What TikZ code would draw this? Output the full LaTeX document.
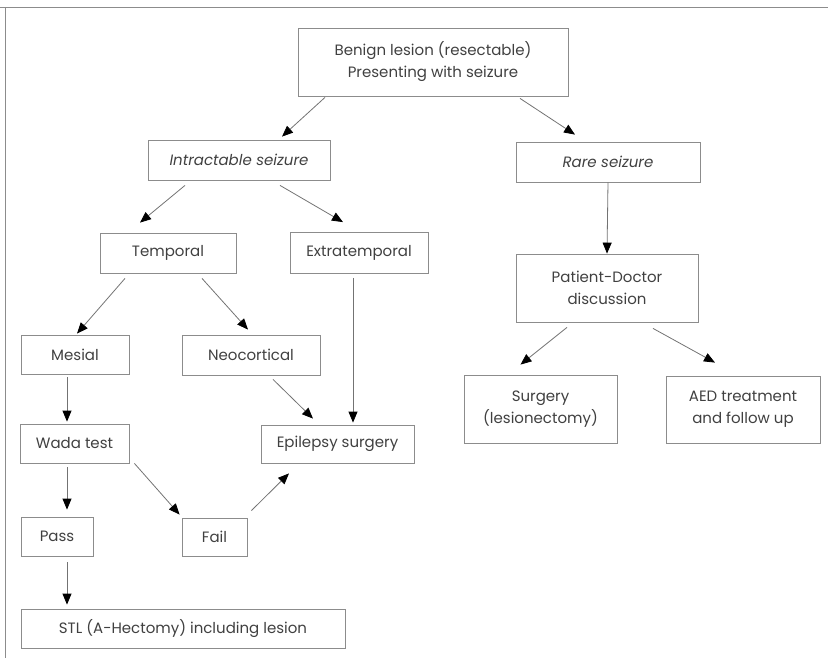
\documentclass[tikz,border=0pt]{standalone}
\usepackage{fontspec}
\setmainfont{Poppins}
\usetikzlibrary{arrows.meta}

\tikzset{
  box/.style={draw=black!45, line width=0.8pt, text=black!75, align=center,
    inner sep=0pt, font=\fontsize{15}{22}\selectfont},
  arr/.style={draw=black!55, line width=0.8pt,
    -{Triangle[length=11pt,width=9pt,color=black]}},
}

\begin{document}
\begin{tikzpicture}[x=1pt,y=-1pt]
      \useasboundingbox (0,0) rectangle (828,658);
      \draw [black!45, line width=1pt] (0,8) -- (828,8);
      \draw [black!45, line width=1pt] (5,8) -- (5,658);

      \node (benign)  [box, minimum width=270pt, minimum height=68pt] at (433,62)
            {Benign lesion (resectable)\\Presenting with seizure};
      \node (intr)    [box, minimum width=182pt, minimum height=40pt] at (239,160)
            {\itshape Intractable seizure};
      \node (rare)    [box, minimum width=184pt, minimum height=40pt] at (608,162)
            {\itshape Rare seizure};
      \node (temp)    [box, minimum width=136pt, minimum height=40pt] at (168,253) {Temporal};
      \node (extra)   [box, minimum width=138pt, minimum height=41pt] at (359,253) {Extratemporal};
      \node (patient) [box, minimum width=182pt, minimum height=68pt] at (607,288)
            {Patient-Doctor\\discussion};
      \node (mesial)  [box, minimum width=108pt, minimum height=39pt] at (75,354.5) {Mesial};
      \node (neo)     [box, minimum width=138pt, minimum height=40pt] at (251,355) {Neocortical};
      \node (surg)    [box, minimum width=153pt, minimum height=68pt] at (540.5,409)
            {Surgery\\(lesionectomy)};
      \node (aed)     [box, minimum width=154pt, minimum height=67pt] at (743,409.5)
            {AED treatment\\and follow up};
      \node (wada)    [box, minimum width=109pt, minimum height=39pt] at (74.5,443.5) {Wada test};
      \node (epi)     [box, minimum width=153pt, minimum height=38pt] at (337.5,444) {Epilepsy surgery};
      \node (pass)    [box, minimum width=72pt, minimum height=39pt] at (57,536.5) {Pass};
      \node (fail)    [box, minimum width=65pt, minimum height=38pt] at (214.5,537) {Fail};
      \node (stl)     [box, minimum width=324pt, minimum height=39pt] at (183,628.5)
            {STL (A-Hectomy) including lesion};

      \draw [arr] ([xshift=-108pt,yshift=-1pt]benign.south) -- ([xshift=43pt,yshift=3pt]intr.north);
      \draw [arr] ([xshift=87pt,yshift=-2pt]benign.south)   -- ([xshift=-33pt,yshift=7pt]rare.north);
      \draw [arr] ([xshift=-54pt,yshift=-5pt]intr.south)    -- ([xshift=-28pt,yshift=10pt]temp.north);
      \draw [arr] ([xshift=41pt,yshift=-5pt]intr.south)     -- ([xshift=-16pt,yshift=10pt]extra.north);
      \draw [arr] (rare.south) -- (patient.north);

      \draw [arr] ([xshift=-43pt,yshift=-5pt]temp.south)    -- ([xshift=2pt,yshift=1pt]mesial.north);
      \draw [arr] ([xshift=34pt,yshift=-5pt]temp.south)     -- ([xshift=-3pt,yshift=5pt]neo.north);
      \draw [arr] ([xshift=-6pt,yshift=-4pt]extra.south)    -- ([xshift=15.5pt,yshift=2pt]epi.north);
      \draw [arr] ([xshift=-40pt,yshift=-5pt]patient.south) -- ([xshift=-20pt,yshift=10pt]surg.north);
      \draw [arr] ([xshift=46pt,yshift=-6pt]patient.south)  -- ([xshift=-28pt,yshift=13pt]aed.north);

      \draw [arr] ([xshift=-8pt,yshift=-3pt]mesial.south)   -- ([xshift=-7.5pt,yshift=2pt]wada.north);
      \draw [arr] ([xshift=22pt,yshift=-4pt]neo.south)      -- ([xshift=-24.5pt,yshift=6pt]epi.north);
      \draw [arr] ([xshift=-7.5pt,yshift=-4pt]wada.south)   -- ([xshift=10pt,yshift=7pt]pass.north);
      \draw [arr] ([xshift=5pt]wada.south east)             -- ([xshift=-2pt,yshift=3pt]fail.north west);
      \draw [arr] ([xshift=4pt,yshift=7pt]fail.north east)  -- ([xshift=-48.5pt,yshift=-10pt]epi.south);
      \draw [arr] ([xshift=10pt,yshift=-6pt]pass.south)     -- ([xshift=-116pt,yshift=4pt]stl.north);
    \end{tikzpicture}
\end{document}
